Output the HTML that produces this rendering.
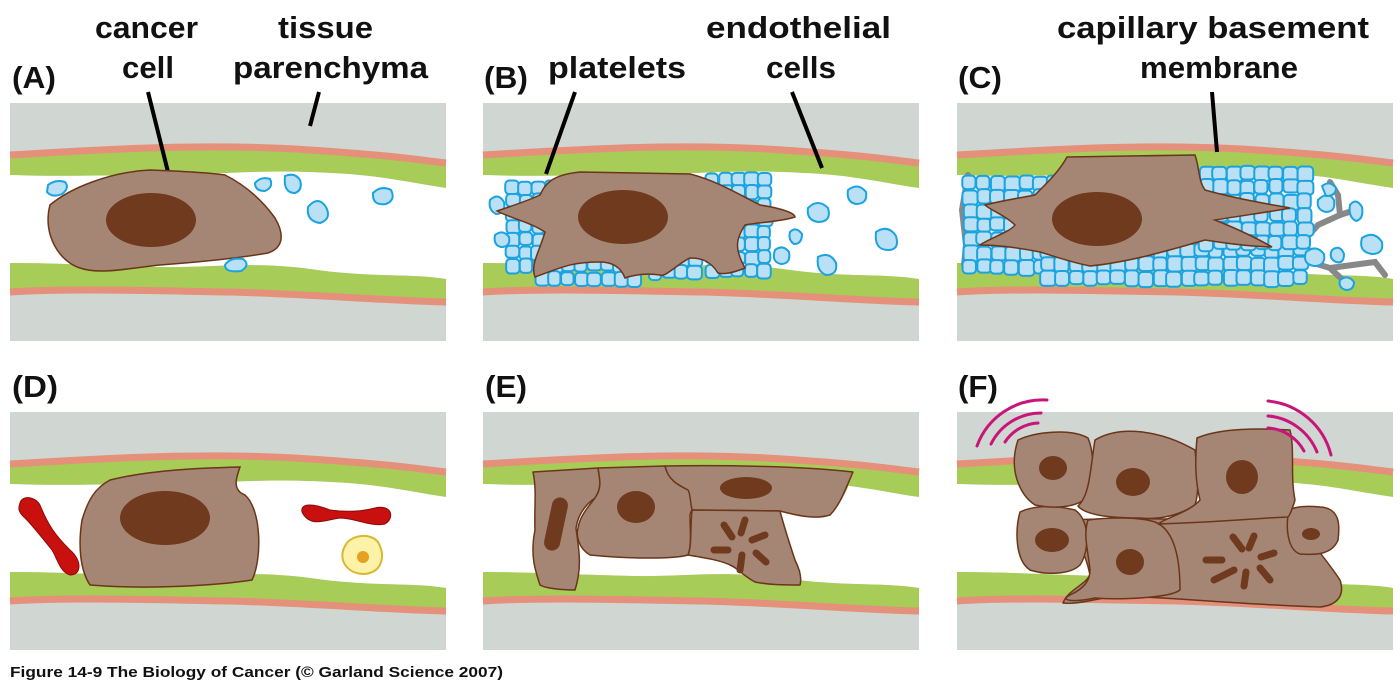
<!DOCTYPE html>
<html><head><meta charset="utf-8"><style>
html,body{margin:0;padding:0;background:#fff;}
svg{display:block;}
text{font-family:"Liberation Sans Narrow","Liberation Sans",sans-serif;font-weight:bold;fill:#111;}
</style></head><body>
<svg id="s" width="1400" height="684" viewBox="0 0 1400 684" xmlns="http://www.w3.org/2000/svg">
<defs>
<g id="vessel">
  <rect x="0" y="0" width="436" height="238" fill="#d0d6d1"/>
  <path d="M0,52 C100,46 200,40 300,47 S400,56 436,60 L436,85 C400,80 370,72 320,70 C250,66 200,72 150,72 C100,72 50,74 0,72 Z" fill="#a8cc58"/>
  <path d="M0,72 C50,74 100,72 150,72 C200,72 250,66 320,70 C370,72 400,80 436,85 L436,176 C400,170 360,175 300,166 C240,158 200,165 150,164 C100,163 50,160 0,160 Z" fill="#fff"/>
  <path d="M0,160 C50,160 100,163 150,164 C200,165 240,158 300,166 C360,175 400,170 436,176 L436,196 C380,195 300,188 220,186 C150,185 60,182 0,186 Z" fill="#a8cc58"/>
  <path d="M0,52 C100,46 200,40 300,47 S400,56 436,60" fill="none" stroke="#e4907a" stroke-width="7"/>
  <path d="M0,189 C60,185 150,188 220,189 C300,191 380,198 436,199" fill="none" stroke="#e4907a" stroke-width="7"/>
</g>
</defs>
<use href="#vessel" x="10" y="103"/>
<use href="#vessel" x="483" y="103"/>
<use href="#vessel" x="957" y="103"/>
<use href="#vessel" x="10" y="412"/>
<use href="#vessel" x="483" y="412"/>
<use href="#vessel" x="957" y="412"/>

<!-- Labels -->
<text x="12" y="88" font-size="31" textLength="44" lengthAdjust="spacingAndGlyphs">(A)</text>
<text x="95" y="38" font-size="31" textLength="103" lengthAdjust="spacingAndGlyphs">cancer</text>
<text x="122" y="78" font-size="31" textLength="52" lengthAdjust="spacingAndGlyphs">cell</text>
<text x="278" y="38" font-size="31" textLength="95" lengthAdjust="spacingAndGlyphs">tissue</text>
<text x="233" y="78" font-size="31" textLength="195" lengthAdjust="spacingAndGlyphs">parenchyma</text>
<text x="484" y="88" font-size="31" textLength="44" lengthAdjust="spacingAndGlyphs">(B)</text>
<text x="548" y="78" font-size="31" textLength="138" lengthAdjust="spacingAndGlyphs">platelets</text>
<text x="706" y="38" font-size="31" textLength="185" lengthAdjust="spacingAndGlyphs">endothelial</text>
<text x="766" y="78" font-size="31" textLength="70" lengthAdjust="spacingAndGlyphs">cells</text>
<text x="958" y="88" font-size="31" textLength="44" lengthAdjust="spacingAndGlyphs">(C)</text>
<text x="1057" y="38" font-size="31" textLength="312" lengthAdjust="spacingAndGlyphs">capillary basement</text>
<text x="1140" y="78" font-size="31" textLength="158" lengthAdjust="spacingAndGlyphs">membrane</text>
<text x="12" y="397" font-size="31" textLength="46" lengthAdjust="spacingAndGlyphs">(D)</text>
<text x="485" y="397" font-size="31" textLength="42" lengthAdjust="spacingAndGlyphs">(E)</text>
<text x="958" y="397" font-size="31" textLength="40" lengthAdjust="spacingAndGlyphs">(F)</text>
<text x="10" y="677" font-size="15" textLength="493" lengthAdjust="spacingAndGlyphs">Figure 14-9  The Biology of Cancer (© Garland Science 2007)</text>

<g stroke="#000" stroke-width="4" stroke-linecap="butt">
<line x1="148" y1="92" x2="168" y2="172"/>
<line x1="319" y1="92" x2="310" y2="126"/>
<line x1="575" y1="92" x2="546" y2="174"/>
<line x1="792" y1="92" x2="822" y2="168"/>
<line x1="1212" y1="92" x2="1217" y2="152"/>
</g>

<!-- Panel A -->
<path d="M50,205 C70,188 110,172 150,170 C175,171 205,172 225,175 C245,185 262,200 275,218 C285,235 283,248 268,253 C240,258 200,262 160,265 C130,268 100,275 80,268 C60,262 42,235 50,205 Z" fill="#a58674" stroke="#6a3519" stroke-width="1.5"/>
<ellipse cx="151" cy="220" rx="45" ry="27" fill="#6f3a1e"/>
<g fill="#b9e0f5" stroke="#1ba3e0" stroke-width="2">
<path d="M48,185 q8,-6 17,-3 q5,6 -3,12 q-10,4 -15,-2 z"/>
<path d="M255,183 q6,-7 15,-4 q4,8 -5,12 q-10,0 -10,-8 z"/>
<path d="M285,176 q10,-4 15,4 q3,10 -5,13 q-12,0 -10,-17 z"/>
<path d="M308,207 q10,-12 18,0 q6,12 -6,16 q-14,-2 -12,-16 z"/>
<path d="M373,193 q8,-8 18,-3 q5,10 -5,14 q-14,2 -13,-11 z"/>
<path d="M225,265 q5,-8 18,-6 q8,6 -2,12 q-16,2 -16,-6 z"/>
</g>

<!-- Panel B platelets -->
<g id="platB" fill="#b9e0f5" stroke="#1ba3e0" stroke-width="2"></g>
<path d="M497,211 C515,205 530,200 540,195 C545,185 550,175 580,172 L690,174 C715,180 740,195 760,205 C780,208 795,213 795,217 C780,222 760,222 745,225 C735,240 735,250 745,268 C735,272 725,275 718,273 C710,260 700,258 690,258 C680,262 665,278 660,275 C640,272 625,278 625,278 C620,265 610,262 600,262 C570,262 560,268 535,277 C530,265 540,250 545,232 C530,222 510,218 497,211 Z" fill="#a58674" stroke="#6a3519" stroke-width="1.5"/>
<ellipse cx="623" cy="217" rx="45" ry="27" fill="#6f3a1e"/>

<!-- Panel C -->
<g fill="none" stroke="#888" stroke-width="6" stroke-linecap="round">
<path d="M1330,182 L1338,195 L1340,215 L1318,225 L1300,245 L1310,262 L1330,268 L1345,282"/>
<path d="M1340,215 L1355,210"/>
<path d="M1330,268 L1375,262 L1385,275"/>
<path d="M1300,245 L1290,235"/>
<path d="M968,175 L962,210 L966,245 L964,265"/>
</g>
<g id="platC" fill="#b9e0f5" stroke="#1ba3e0" stroke-width="2"></g>
<path d="M1067,157 L1195,155 C1200,170 1198,180 1205,190 C1240,200 1275,205 1290,208 C1270,212 1245,215 1215,220 C1240,230 1260,240 1272,247 C1240,246 1220,242 1205,240 C1170,250 1130,262 1090,266 C1070,262 1060,258 1040,252 C1020,248 1000,245 980,245 C990,238 1010,232 1015,225 C1005,215 990,210 985,205 C1005,200 1020,198 1035,195 C1050,180 1060,170 1067,157 Z" fill="#a58674" stroke="#6a3519" stroke-width="1.5"/>
<ellipse cx="1097" cy="219" rx="45" ry="27" fill="#6f3a1e"/>
<g fill="#b9e0f5" stroke="#1ba3e0" stroke-width="2">
<path d="M1318,200 q10,-10 16,0 q2,12 -8,12 q-10,-2 -8,-12 z"/>
<path d="M1350,205 q6,-8 12,2 q2,12 -6,14 q-8,-4 -6,-16 z"/>
<path d="M1362,238 q12,-8 20,4 q2,12 -10,12 q-14,-2 -10,-16 z"/>
<path d="M1306,252 q10,-8 18,2 q2,12 -10,12 q-12,-2 -8,-14 z"/>
<path d="M1332,250 q8,-6 12,4 q0,10 -8,8 q-8,-4 -4,-12 z"/>
<path d="M1340,280 q8,-6 14,2 q0,8 -8,8 q-8,-2 -6,-10 z"/>
<path d="M1322,186 q8,-6 14,2 q0,8 -10,8 z"/>
</g>

<!-- Panel D -->
<path d="M240,467 C236,478 232,490 245,495 C262,510 262,560 252,580 C220,585 150,590 90,585 C80,570 78,545 82,520 C88,500 95,488 110,480 C150,470 200,468 240,467 Z" fill="#a58674" stroke="#6a3519" stroke-width="1.5"/>
<ellipse cx="165" cy="518" rx="45" ry="27" fill="#6f3a1e"/>
<g fill="#c8100e" stroke="#8a0a0a" stroke-width="1">
<path d="M20,503 C22,495 35,496 40,505 C48,525 55,535 70,550 C82,560 82,575 70,575 C60,572 58,560 52,550 C40,535 32,525 25,518 C18,512 18,508 20,503 Z"/>
<path d="M302,512 C300,502 315,504 330,510 C345,512 360,512 375,508 C392,504 395,518 385,524 C370,527 355,518 340,518 C325,520 310,528 302,512 Z"/>
</g>
<path d="M345,546 C350,535 370,532 378,542 C386,556 382,572 365,574 C345,574 338,558 345,546 Z" fill="#fdf3a8" stroke="#d8b830" stroke-width="2"/>
<circle cx="363" cy="557" r="6" fill="#e8a020"/>

<!-- Panel E -->
<path d="M836,470 L853,470 C850,485 845,495 838,505 L830,510 Z" fill="#a8cc58"/>
<g fill="#a58674" stroke="#6a3519" stroke-width="1.5" stroke-linejoin="round">
<path d="M533,472 L598,468 C600,480 602,488 595,498 C585,505 578,515 576,528 C578,545 583,565 575,590 C560,590 545,588 540,585 C535,570 530,555 535,530 C534,510 537,490 533,472 Z"/>
<path d="M598,468 L665,466 C668,480 680,485 690,490 C700,505 690,510 690,515 C690,530 692,545 688,555 C670,560 620,558 590,555 C578,548 576,535 578,528 C580,515 590,505 595,498 C602,488 600,480 598,468 Z"/>
<path d="M665,466 C720,465 800,466 853,472 C845,490 840,505 830,515 C815,520 795,515 780,511 L692,510 C690,500 690,492 688,490 C678,485 668,480 665,466 Z"/>
<path d="M692,510 L780,511 C785,530 790,545 795,560 C800,570 802,578 800,585 C785,585 770,585 755,582 C742,575 738,568 730,565 C720,560 705,558 688,555 C692,545 690,530 692,510 Z"/>
</g>
<g fill="#6f3a1e">
<rect x="548" y="497" width="16" height="54" rx="8" transform="rotate(12 556 524)"/>
<ellipse cx="636" cy="507" rx="19" ry="16"/>
<ellipse cx="746" cy="488" rx="26" ry="11"/>
</g>
<g stroke="#6f3a1e" stroke-width="7" stroke-linecap="round">
<line x1="724" y1="525" x2="732" y2="537"/>
<line x1="745" y1="520" x2="741" y2="533"/>
<line x1="752" y1="540" x2="765" y2="535"/>
<line x1="714" y1="550" x2="728" y2="550"/>
<line x1="742" y1="555" x2="740" y2="570"/>
<line x1="756" y1="553" x2="766" y2="562"/>
</g>

<!-- Panel F -->
<g fill="#a58674" stroke="#6a3519" stroke-width="1.5" stroke-linejoin="round">
<path d="M1062,521 C1080,518 1100,520 1130,518 C1160,520 1190,518 1195,520 C1230,518 1270,515 1290,515 C1300,530 1320,550 1340,580 C1345,595 1338,605 1320,607 C1250,605 1180,598 1120,596 C1100,597 1080,605 1063,603 C1068,590 1085,585 1090,575 C1085,550 1075,535 1062,521 Z"/>
<path d="M1288,515 C1286,508 1300,505 1320,507 C1340,508 1340,525 1338,540 C1332,555 1315,555 1300,554 C1288,550 1286,530 1288,515 Z"/>
<path d="M1020,512 C1035,505 1055,505 1075,510 C1090,520 1090,550 1080,565 C1070,575 1045,575 1030,570 C1015,560 1015,530 1020,512 Z"/>
<path d="M1088,520 C1110,517 1140,517 1155,522 C1175,530 1180,560 1180,590 C1170,598 1120,600 1095,598 C1070,603 1060,600 1070,595 C1085,588 1090,580 1090,570 C1088,550 1083,535 1088,520 Z"/>
<path d="M1018,440 C1035,432 1070,428 1088,438 C1093,450 1095,470 1090,495 C1080,506 1060,510 1035,505 C1020,495 1008,470 1018,440 Z"/>
<path d="M1095,440 C1120,425 1160,430 1195,450 C1197,470 1200,490 1195,505 C1180,515 1160,520 1140,518 C1110,518 1085,515 1078,506 C1090,495 1090,470 1095,440 Z"/>
<path d="M1197,438 C1220,428 1260,428 1290,430 C1295,450 1290,475 1295,500 C1292,510 1290,515 1288,517 C1260,518 1220,522 1158,524 C1165,518 1190,512 1200,500 C1195,480 1195,460 1197,438 Z"/>
</g>
<g fill="#6f3a1e">
<ellipse cx="1053" cy="468" rx="14" ry="12"/>
<ellipse cx="1133" cy="482" rx="17" ry="14"/>
<ellipse cx="1242" cy="477" rx="16" ry="17"/>
<ellipse cx="1052" cy="540" rx="17" ry="12"/>
<ellipse cx="1130" cy="562" rx="14" ry="13"/>
<ellipse cx="1311" cy="534" rx="9" ry="6"/>
</g>
<g stroke="#6f3a1e" stroke-width="7" stroke-linecap="round">
<line x1="1233" y1="537" x2="1242" y2="549"/>
<line x1="1254" y1="536" x2="1249" y2="548"/>
<line x1="1261" y1="557" x2="1274" y2="553"/>
<line x1="1206" y1="560" x2="1222" y2="560"/>
<line x1="1234" y1="570" x2="1214" y2="580"/>
<line x1="1246" y1="572" x2="1244" y2="586"/>
<line x1="1260" y1="568" x2="1270" y2="580"/>
</g>
<g fill="none" stroke="#c8157a" stroke-width="3" stroke-linecap="round">
<path d="M977,446 A70,70 0 0 1 1047,400"/>
<path d="M991,444 A56,56 0 0 1 1041,413"/>
<path d="M1005,442 A42,42 0 0 1 1038,423"/>
<path d="M1268,401 A72,72 0 0 1 1331,455"/>
<path d="M1268,416 A58,58 0 0 1 1317,452"/>
<path d="M1268,428 A44,44 0 0 1 1304,451"/>
</g>
</svg>
<script>
(function(){
 var seed=7;function r(){seed=(seed*9301+49297)%233280;return seed/233280;}
 function cluster(id,x0,y0,x1,y1,sz){
  var g=document.getElementById(id),h='';
  for(var y=y0;y<y1;y+=sz){for(var x=x0;x<x1;x+=sz){
   var w=sz-1+r()*3,hh=sz-1+r()*3;
   h+='<rect x="'+(x+r()*2)+'" y="'+(y+r()*2)+'" width="'+w+'" height="'+hh+'" rx="4"/>';
  }}
  g.innerHTML+=h;
 }
 cluster('platB',505,180,545,268,13);
 cluster('platB',535,258,630,280,13);
 cluster('platB',648,252,700,272,13);
 cluster('platB',705,172,770,268,13);
 var g=document.getElementById('platB');
 g.innerHTML+='<path d="M490,200 q8,-8 14,2 q2,12 -8,12 q-8,-4 -6,-14 z"/><path d="M495,235 q8,-6 14,2 q2,10 -8,10 q-8,-2 -6,-12 z"/><path d="M808,208 q10,-10 20,0 q4,14 -10,14 q-12,-2 -10,-14 z"/><path d="M848,190 q10,-8 18,2 q2,12 -10,12 q-10,-2 -8,-14 z"/><path d="M790,232 q6,-6 12,2 q0,10 -8,10 q-6,-4 -4,-12 z"/><path d="M818,257 q12,-6 18,6 q2,12 -10,12 q-10,-4 -8,-18 z"/><path d="M876,232 q12,-8 20,4 q4,14 -8,14 q-14,0 -12,-18 z"/><path d="M775,250 q8,-6 14,2 q2,12 -8,12 q-10,-2 -6,-14 z"/>';
 cluster('platC',962,175,1050,272,14);
 cluster('platC',1040,242,1295,275,14);
 cluster('platC',1198,165,1300,245,14);
})();
</script>
</body></html>
